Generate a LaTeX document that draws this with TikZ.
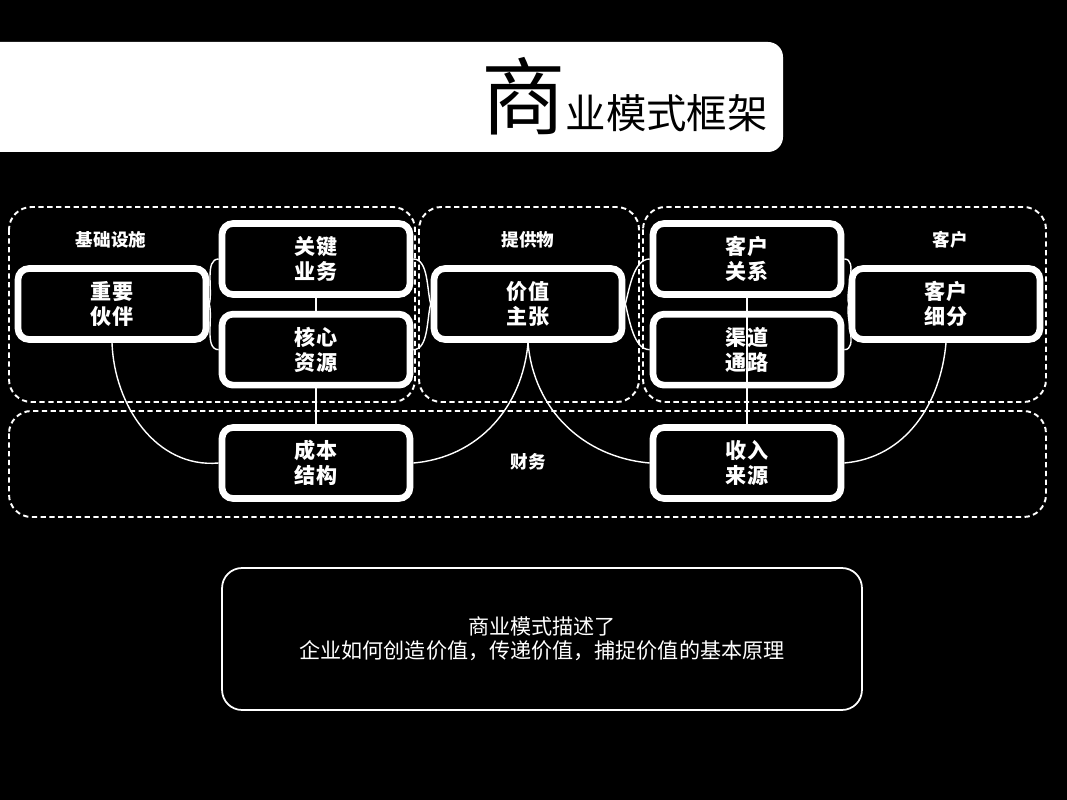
\documentclass[tikz,border=0pt]{standalone}
\usepackage{fontspec}
\setmainfont{Noto Sans CJK SC}
\usetikzlibrary{positioning}

\begin{document}
\begin{tikzpicture}[
		x=0.02cm, y=-0.02cm,
		node distance=0.26cm,
		link/.style={white, line width=0.8pt},
		group/.style={draw=white, line width=1.1pt, dash pattern=on 3pt off 2pt, rounded corners=0.45cm},
		grouplabel/.style={text=white, font=\bfseries\fontsize{10}{12}\selectfont},
		block/.style={draw=white, line width=3.8pt, fill=black, rounded corners=0.22cm, minimum width=3.76cm, minimum height=1.42cm, align=center, text=white, font=\bfseries\fontsize{12}{14}\selectfont},
	]
		\fill[black] (0,0) rectangle (1067,800);
		\useasboundingbox (0,0) rectangle (1067,800);
		% title banner
		\fill[white, rounded corners=0.3cm] (-30,42) rectangle (783,152);
		\node (title) [anchor=base east, inner sep=0pt] at (768,129) {{\fontsize{48}{48}\selectfont 商}{\fontsize{23}{23}\selectfont 业模式框架}};
		% groups
		\draw[group] (9,207) rectangle (415,402);
		\draw[group] (419,207) rectangle (639,402);
		\draw[group] (643,207) rectangle (1046,402);
		\draw[group] (9,411) rectangle (1046,517);
		\node (infra) [grouplabel] at (111,240) {基础设施};
		\node (offer) [grouplabel] at (528,240) {提供物};
		\node (cust) [grouplabel] at (950,240) {客户};
		\node (fin) [grouplabel] at (528,462) {财务};
		% blocks
		\node (pp) [block] at (112,304) {重要\\伙伴};
		\node (ka) [block] at (316,259) {关键\\业务};
		\node (kr) [block, below=of ka] {核心\\资源};
		\node (vp) [block] at (528,304) {价值\\主张};
		\node (cr) [block] at (747,259) {客户\\关系};
		\node (ch) [block, below=of cr] {渠道\\通路};
		\node (cs) [block] at (946,304) {客户\\细分};
		\node (cost) [block] at (316,463) {成本\\结构};
		\node (rev) [block] at (747,463) {收入\\来源};
		% links
		\draw[link] (pp.east) to[out=75,in=180,looseness=0.8] (ka.west);
		\draw[link] (pp.east) to[out=-75,in=180,looseness=0.8] (kr.west);
		\draw[link] (ka.east) to[out=0,in=105,looseness=0.8] (vp.west);
		\draw[link] (kr.east) to[out=0,in=-105,looseness=0.8] (vp.west);
		\draw[link] (vp.east) to[out=75,in=180,looseness=0.8] (cr.west);
		\draw[link] (vp.east) to[out=-75,in=180,looseness=0.8] (ch.west);
		\draw[link] (cr.east) to[out=0,in=105,looseness=0.8] (cs.west);
		\draw[link] (ch.east) to[out=0,in=-105,looseness=0.8] (cs.west);
		\draw[link] (ka.south) -- (kr.north);
		\draw[link] (kr.south) -- (cost.north);
		\draw[link] (cr.south) -- (rev.north);
		\draw[link] (pp.south) to[out=-88,in=185] (cost.west);
		\draw[link] (vp.south) to[out=-95,in=5] (cost.east);
		\draw[link] (vp.south) to[out=-85,in=175] (rev.west);
		\draw[link] (cs.south) to[out=-95,in=5] (rev.east);
		% summary
		\node (summary) [draw=white, line width=1pt, rounded corners=0.4cm, minimum width=12.8cm, minimum height=2.84cm, align=center, text=white, font=\fontsize{12}{13.5}\selectfont] at (542,639) {商业模式描述了\\企业如何创造价值，传递价值，捕捉价值的基本原理};
	\end{tikzpicture}
\end{document}
